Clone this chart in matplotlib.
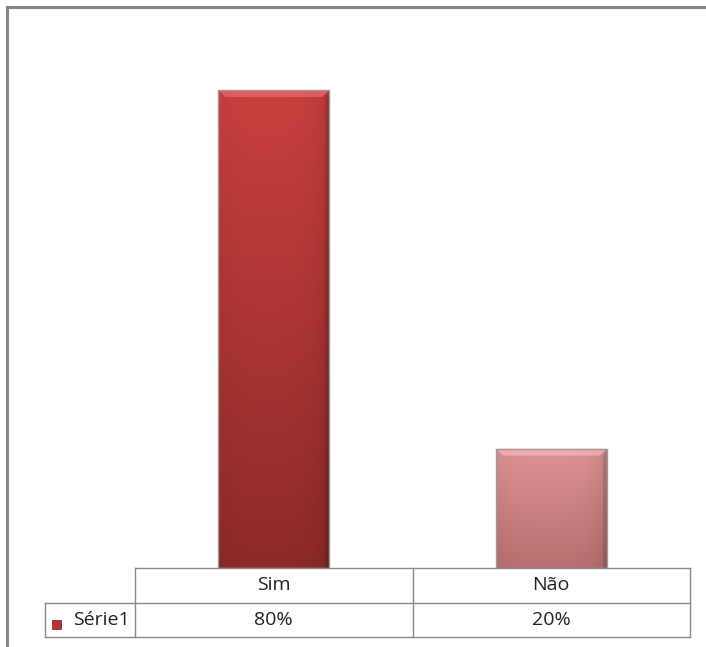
import numpy as np
import matplotlib
matplotlib.use("Agg")
import matplotlib.pyplot as plt
from matplotlib.colors import LinearSegmentedColormap
from matplotlib.lines import Line2D
from matplotlib.patches import Rectangle, Polygon
import matplotlib.transforms as mtransforms

# dados
categorias = ["Sim", "Não"]
valores = [0.80, 0.20]
rotulos = ["80%", "20%"]
serie = "Série1"

# cores (topo, base) de cada barra
cores_topo = ["#c9403e", "#e09294"]
cores_base = ["#8c2a29", "#b8706f"]
cores_brilho = ["#f07a78", "#ffc4c4"]

plt.rcParams['font.family'] = ['Open Sans', 'DejaVu Sans']

W, H = 706, 647
fig = plt.figure(figsize=(W / 100, H / 100), dpi=100)

# area do grafico em pixels
x0, x1 = 135, 690
y_base = 568
ymax = 0.9
y_top = y_base - 478 / 0.8 * ymax
alt_ax = y_base - y_top
ax = fig.add_axes([x0 / W, 1 - y_base / H, (x1 - x0) / W, alt_ax / H])
for s in ax.spines.values():
    s.set_visible(False)
ax.set_xticks([])
ax.set_yticks([])

xs = np.arange(len(categorias))
larg = 0.4
barras = ax.bar(xs, valores, width=larg, facecolor="none", edgecolor="#9a9a9a", linewidth=1.0, zorder=3)

# tamanho de um pixel em unidades de dados
px_x = len(categorias) / (x1 - x0)
px_y = ymax / alt_ax

for i, b in enumerate(barras):
    cmap = LinearSegmentedColormap.from_list("g%d" % i, [cores_base[i], cores_topo[i]])
    grad = np.linspace(0, 1, 256).reshape(-1, 1)
    lat = np.linspace(0, 1, 64)
    sombra = 1 - 0.10 * (np.abs(lat - 0.45) / 0.55) ** 4
    img = cmap(grad)[:, :, :3] * np.ones((256, 64, 1))
    img = img * sombra[None, :, None]
    im = ax.imshow(img, extent=[b.get_x(), b.get_x() + b.get_width(), 0, b.get_height()],
                   origin="lower", aspect="auto", zorder=2)
    im.set_clip_path(b)
    # bisel no topo
    xl, xr, yt = b.get_x(), b.get_x() + b.get_width(), b.get_height()
    d = 7
    ax.add_patch(Polygon([(xl, yt), (xr, yt), (xr - d * px_x, yt - d * px_y), (xl + d * px_x, yt - d * px_y)],
                         closed=True, facecolor=cores_brilho[i], alpha=0.55, edgecolor="none", zorder=2.5))
    # bisel na direita
    ax.add_patch(Polygon([(xr, yt), (xr, 0), (xr - 4 * px_x, 0), (xr - 4 * px_x, yt - d * px_y)],
                         closed=True, facecolor="black", alpha=0.12, edgecolor="none", zorder=2.5))

ax.set_xlim(-0.5, len(categorias) - 0.5)
ax.set_ylim(0, ymax)

# tabela de dados (x em dados, y em fracao do eixo)
tr = mtransforms.blended_transform_factory(ax.transData, ax.transAxes)
xe = -0.5 - (x0 - 45) * px_x
y_meio = -(603 - y_base) / alt_ax
y_fim = -(637 - y_base) / alt_ax
cor_lin = "#8a8a8a"
bordas = [-0.5 + k for k in range(len(categorias) + 1)]
kw = dict(color=cor_lin, linewidth=1.0, transform=tr, clip_on=False)
ax.plot([bordas[0], bordas[-1]], [0, 0], **kw)
ax.plot([xe, bordas[-1]], [y_meio, y_meio], **kw)
ax.plot([xe, bordas[-1]], [y_fim, y_fim], **kw)
ax.plot([xe, xe], [y_meio, y_fim], **kw)
for bx in bordas:
    ax.plot([bx, bx], [0, y_fim], **kw)

fs = 14
for i in range(len(categorias)):
    ax.text(xs[i], y_meio / 2, categorias[i], transform=tr, ha="center", va="center",
            fontsize=fs, color="#222222")
    ax.text(xs[i], (y_meio + y_fim) / 2, rotulos[i], transform=tr, ha="center", va="center",
            fontsize=fs, color="#222222")
ax.text(-0.5 - 5 * px_x, (y_meio + y_fim) / 2, serie, transform=tr, ha="right", va="center",
        fontsize=fs, color="#222222")

# marcador da serie
fig.add_artist(Rectangle((52 / W, 1 - 629 / H), 9 / W, 9 / H, transform=fig.transFigure,
                         facecolor="#b33533", edgecolor="#8c2a29", linewidth=0.6))

# moldura
fig.add_artist(Line2D([7 / W, 7 / W], [0, 1 - 7 / H], color="#878787", linewidth=2.2))
fig.add_artist(Line2D([7 / W, 1], [1 - 7 / H, 1 - 7 / H], color="#878787", linewidth=2.2))

fig.savefig("out.png", dpi=100)
